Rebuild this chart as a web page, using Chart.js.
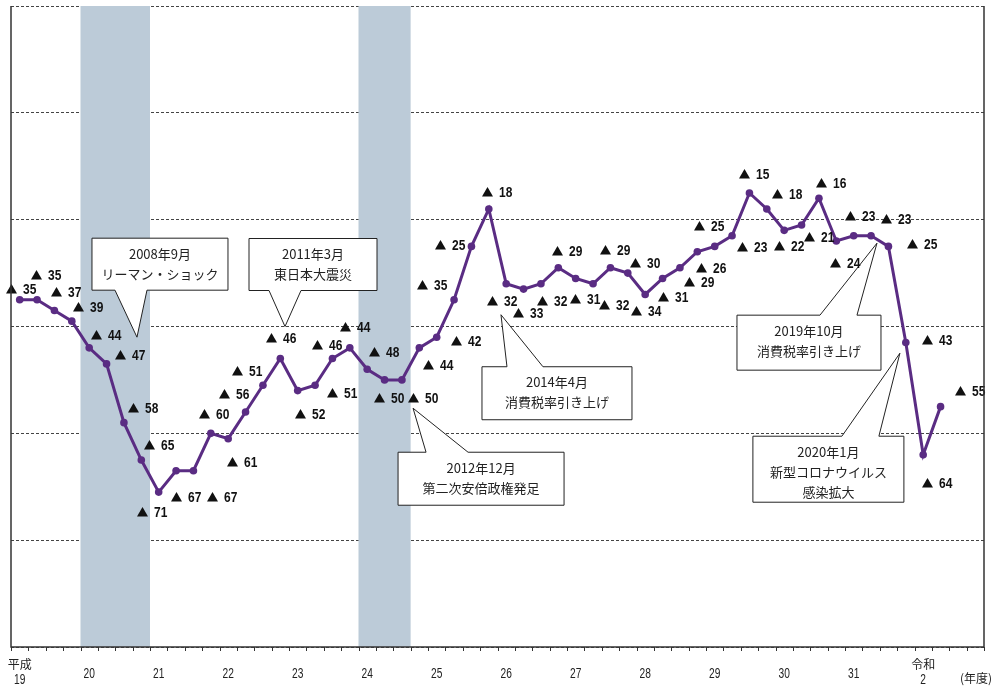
<!DOCTYPE html>
<html lang="ja">
<head>
<meta charset="utf-8">
<script src="https://cdn.jsdelivr.net/npm/chart.js@4.4.1/dist/chart.umd.min.js"></script>
<style>
  body { margin: 0; background: #fff; }
  canvas { display: block; }
</style>
</head>
<body>
<canvas id="plot" width="993" height="688"></canvas>
<script>
// fiscal years on the axis (era name only where it changes)
const fiscalYears = ['19','20','21','22','23','24','25','26','27','28','29','30','31','2'];
const eraNames    = ['平成','','','','','','','','','','','','','令和'];

// quarterly values, ▲ = minus
const values = [
  -35, -35, -37, -39,
  -44, -47, -58, -65,
  -71, -67, -67, -60,
  -61, -56, -51, -46,
  -52, -51, -46, -44,
  -48, -50, -50, -44,
  -42, -35, -25, -18,
  -32, -33, -32, -29,
  -31, -32, -29, -30,
  -34, -31, -29, -26,
  -25, -23, -15, -18,
  -22, -21, -16, -24,
  -23, -23, -25, -43,
  -64, -55, null, null
];

// shaded periods, as [first quarter, last quarter + 1]
const recessions = [[4, 8], [20, 23]];

// where each value label sits relative to its point (px)
const labelOffsets = [
  [-14,-11], [-6,-25], [-3,-18], [1,-14],
  [2,-13], [8,-9], [4,-15], [3,-15],
  [-22,20], [-5,26], [14,26], [-12,-19],
  [-1,23], [-27,-18], [-31,-14], [-14,-21],
  [-3,23], [12,8], [-20,-14], [-10,-21],
  [2,-17], [-11,18], [6,18], [4,17],
  [14,4], [-37,-15], [-36,-1], [-7,-17],
  [-19,17], [-11,24], [-4,17], [-6,-17],
  [-6,21], [6,21], [-10,-18], [2,-10],
  [-14,17], [-5,19], [4,14], [-1,16],
  [-21,-20], [5,11], [-10,-19], [5,-15],
  [-10,16], [2,12], [-3,-15], [-6,22],
  [-9,-20], [10,-17], [19,-2], [16,-3],
  [-1,28], [14,-16]
];

// event callouts: tip anchored on the scales, box and pointer base in px from the tip
const events = [
  { lines: ['2008年9月', 'リーマン・ショック'], at: 6.75, value: -42, side: 'bottom', box: [-45, 91, -99, -47], base: [-22, 10] },
  { lines: ['2011年3月', '東日本大震災'], at: 15.27, value: -40, side: 'bottom', box: [-36, 92, -88, -36], base: [-16, 16] },
  { lines: ['2012年12月', '第二次安倍政権発足'], at: 22.64, value: -55.3, side: 'top', box: [-15, 151, 44, 97], base: [13, 55] },
  { lines: ['2014年4月', '消費税率引き上げ'], at: 27.7, value: -37.8, side: 'top', box: [-19, 131, 52, 105], base: [6, 42] },
  { lines: ['2019年10月', '消費税率引き上げ'], at: 49.34, value: -24.4, side: 'top', box: [-140, 4, 72, 127], base: [-57, -20] },
  { lines: ['2020年1月', '新型コロナウイルス', '感染拡大'], at: 50.66, value: -45, side: 'top', box: [-147, 4, 83, 149], base: [-58, -21] }
];

const labels = [];
fiscalYears.forEach(fy => { for (let q = 1; q <= 4; q++) labels.push(fy + '-' + q); });

const purple = '#5a2c83';
const sans = '"Liberation Sans", Arial, sans-serif';
const cjk = '"Noto Sans CJK JP", sans-serif';

// text squeezed horizontally, for the condensed digits
function narrowText(ctx, text, x, y, squeeze) {
  ctx.save();
  ctx.translate(x, y);
  ctx.scale(squeeze, 1);
  ctx.fillText(text, 0, 0);
  ctx.restore();
}

const extras = {
  id: 'extras',
  beforeDatasetsDraw(chart) {
    const { ctx, chartArea: a, scales: { x } } = chart;
    ctx.save();
    ctx.fillStyle = '#bccbd8';
    recessions.forEach(([s, e]) => {
      const l = x.getPixelForValue(s - 0.5), r = x.getPixelForValue(e - 0.5);
      ctx.fillRect(l, a.top, r - l, a.bottom - a.top);
    });
    ctx.restore();
  },
  afterDatasetsDraw(chart) {
    const { ctx, scales: { x, y } } = chart;
    ctx.save();
    // callouts
    events.forEach(ev => {
      const tx = x.getPixelForValue(ev.at), ty = y.getPixelForValue(ev.value);
      const L = tx + ev.box[0], R = tx + ev.box[1], T = ty + ev.box[2], B = ty + ev.box[3];
      const b0 = tx + ev.base[0], b1 = tx + ev.base[1];
      ctx.beginPath();
      if (ev.side === 'bottom') {
        ctx.moveTo(L, T); ctx.lineTo(R, T); ctx.lineTo(R, B);
        ctx.lineTo(b1, B); ctx.lineTo(tx, ty); ctx.lineTo(b0, B); ctx.lineTo(L, B);
      } else {
        ctx.moveTo(L, T); ctx.lineTo(b0, T); ctx.lineTo(tx, ty); ctx.lineTo(b1, T);
        ctx.lineTo(R, T); ctx.lineTo(R, B); ctx.lineTo(L, B);
      }
      ctx.closePath();
      ctx.fillStyle = '#fff';
      ctx.fill();
      ctx.strokeStyle = '#222';
      ctx.lineWidth = 1;
      ctx.stroke();
      ctx.fillStyle = '#222';
      ctx.font = '13px ' + cjk;
      ctx.textAlign = 'center';
      ctx.textBaseline = 'middle';
      ev.lines.forEach((t, i) => ctx.fillText(t, (L + R) / 2, T + 15.5 + i * 20));
    });
    // value labels: ▲ then the figure
    const meta = chart.getDatasetMeta(0);
    ctx.fillStyle = '#111';
    ctx.textAlign = 'left';
    ctx.textBaseline = 'middle';
    ctx.font = 'bold 15px ' + sans;
    meta.data.forEach((pt, i) => {
      if (values[i] === null) return;
      const [dx, dy] = labelOffsets[i];
      const lx = Math.round(pt.x + dx), ly = Math.round(pt.y + dy);
      ctx.beginPath();
      ctx.moveTo(lx, ly + 4.5);
      ctx.lineTo(lx + 11, ly + 4.5);
      ctx.lineTo(lx + 5.5, ly - 5);
      ctx.closePath();
      ctx.fill();
      narrowText(ctx, String(Math.abs(values[i])), lx + 17, ly + 1, 0.8);
    });
    ctx.restore();
  },
  afterDraw(chart) {
    const { ctx, chartArea: a, scales: { x } } = chart;
    ctx.save();
    // frame
    ctx.strokeStyle = '#333';
    ctx.lineWidth = 1.5;
    ctx.beginPath();
    ctx.moveTo(a.left, a.top); ctx.lineTo(a.left, a.bottom); ctx.lineTo(a.right, a.bottom); ctx.lineTo(a.right, a.top);
    ctx.stroke();
    // quarter ticks below the axis
    ctx.lineWidth = 1;
    ctx.beginPath();
    for (let i = 0; i <= labels.length; i++) {
      const px = Math.round(x.getPixelForValue(i - 0.5)) + 0.5;
      ctx.moveTo(px, a.bottom);
      ctx.lineTo(px, a.bottom + 4);
    }
    ctx.stroke();
    // year labels
    ctx.fillStyle = '#222';
    ctx.textAlign = 'center';
    ctx.textBaseline = 'middle';
    fiscalYears.forEach((fy, k) => {
      const px = x.getPixelForValue(k * 4);
      ctx.font = '15px ' + sans;
      if (eraNames[k]) {
        ctx.font = '12px ' + cjk;
        ctx.fillText(eraNames[k], px, 664);
        ctx.font = '15px ' + sans;
        narrowText(ctx, fy, px, 680, 0.68);
      } else {
        narrowText(ctx, fy, px, 674, 0.68);
      }
    });
    ctx.font = '12px ' + cjk;
    ctx.fillText('(年度)', 976, 678);
    ctx.restore();
  }
};

const data = {
  labels: labels,
  datasets: [{
    data: values,
    borderColor: purple,
    backgroundColor: purple,
    borderWidth: 3,
    pointRadius: 3.8,
    pointBackgroundColor: purple,
    pointBorderWidth: 0,
    tension: 0,
    spanGaps: false
  }]
};

const config = {
  type: 'line',
  data: data,
  options: {
    responsive: false,
    animation: false,
    layout: { padding: { left: 11, right: 9, top: 6, bottom: 36 } },
    plugins: { legend: { display: false }, tooltip: { enabled: false } },
    scales: {
      x: {
        offset: true,
        grid: { offset: true, drawOnChartArea: false, drawTicks: true, tickLength: 5, color: 'rgba(0,0,0,0)' },
        border: { display: false },
        ticks: { display: false, autoSkip: false }
      },
      y: {
        min: -100,
        max: 20,
        ticks: { display: false, stepSize: 20 },
        grid: { drawTicks: false, color: '#444', lineWidth: 1 },
        border: { display: false, dash: [3, 2] }
      }
    }
  },
  plugins: [extras]
};

let ctx = document.getElementById('plot').getContext('2d');
let chart = new Chart(ctx, config);
</script>
</body>
</html>
